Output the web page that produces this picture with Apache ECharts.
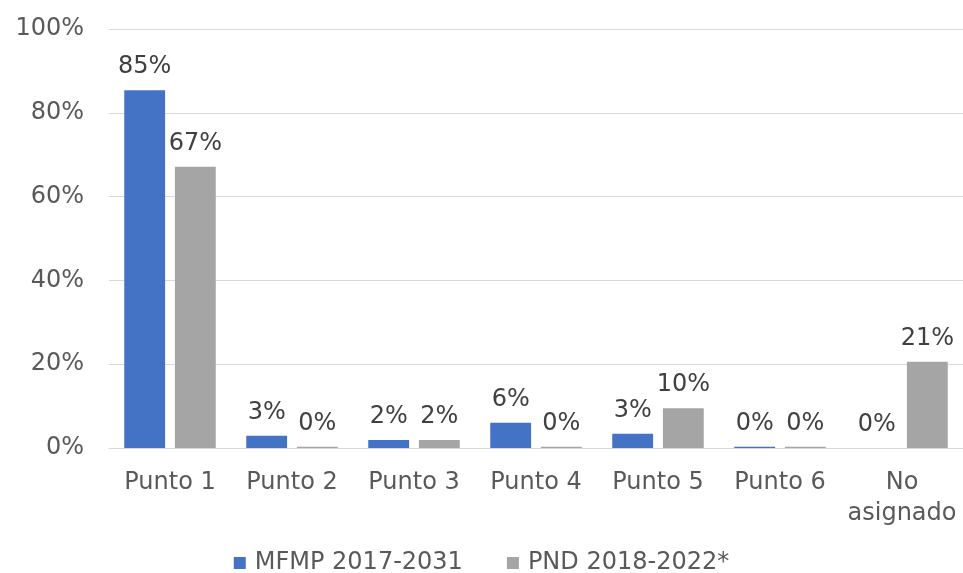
<!DOCTYPE html>
<html>
<head>
<meta charset="utf-8">
<script src="https://cdn.jsdelivr.net/npm/echarts@6/dist/echarts.min.js"></script>
<style>
  html, body { margin: 0; padding: 0; background: #fff; }
  #chart { width: 963px; height: 573px; }
</style>
</head>
<body>
<div id="chart"></div>
<script>
var categories = ["Punto 1", "Punto 2", "Punto 3", "Punto 4", "Punto 5", "Punto 6", "No\nasignado"];
var seriesNames = ["MFMP 2017-2031", "PND 2018-2022*"];
var mfmpValues = [85.4, 2.9, 1.9, 6.0, 3.4, 0.3, 0];
var pndValues = [67.1, 0.3, 1.9, 0.3, 9.5, 0.3, 20.6];
var yTicks = [0, 20, 40, 60, 80, 100];

var chart = echarts.init(document.getElementById("chart"));
var font = "Verdana, 'DejaVu Sans', sans-serif";

function pctLabel(p) {
  return Math.round(p.value) + "%";
}

chart.setOption({
  animation: false,
  color: ["#4472C4", "#A5A5A5"],
  textStyle: { fontFamily: font },
  grid: { left: 109, right: 0, top: 29, bottom: 125 },
  legend: {
    top: 551,
    left: "center",
    padding: 0,
    itemWidth: 12,
    itemHeight: 12,
    itemGap: 44,
    icon: "rect",
    textStyle: { color: "#595959", fontSize: 24, fontFamily: font, padding: [0, 0, 0, 4] },
    data: seriesNames
  },
  xAxis: {
    type: "category",
    data: categories,
    axisLine: { lineStyle: { color: "#D9D9D9", width: 1 } },
    axisTick: { show: false },
    axisLabel: { color: "#595959", fontSize: 24, fontFamily: font, margin: 19, lineHeight: 31, interval: 0 }
  },
  yAxis: {
    type: "value",
    min: yTicks[0],
    max: yTicks[yTicks.length - 1],
    interval: 20,
    axisLine: { show: false },
    axisTick: { show: false },
    axisLabel: { color: "#595959", fontSize: 24, fontFamily: font, margin: 25, formatter: "{value}%" },
    splitLine: { lineStyle: { color: "#D9D9D9", width: 1 } }
  },
  series: [
    {
      name: seriesNames[0],
      type: "bar",
      data: mfmpValues,
      barGap: "24%",
      barCategoryGap: "25%",
      label: { show: true, position: "top", distance: 11, color: "#404040", fontSize: 24, fontFamily: font, formatter: pctLabel }
    },
    {
      name: seriesNames[1],
      type: "bar",
      data: pndValues,
      label: { show: true, position: "top", distance: 11, color: "#404040", fontSize: 24, fontFamily: font, formatter: pctLabel }
    }
  ]
});
</script>
</body>
</html>
